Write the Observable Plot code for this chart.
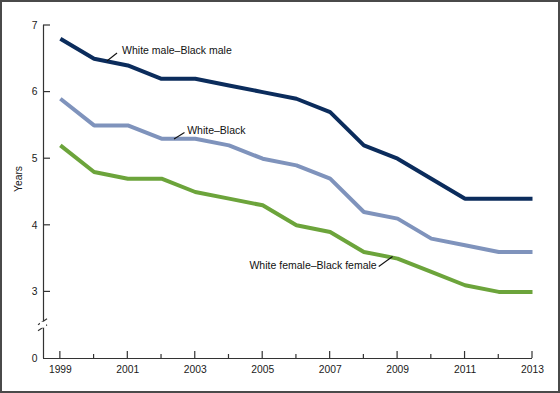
<!DOCTYPE html>
<html><head><meta charset="utf-8">
<script src="https://cdn.jsdelivr.net/npm/d3@7"></script>
<script src="https://cdn.jsdelivr.net/npm/@observablehq/plot@0.6"></script>
<style>
html,body{margin:0;padding:0;background:#fff;}
#chart{position:relative;width:560px;height:393px;overflow:hidden;}
#chart svg{position:absolute;left:0;top:0;}
#frame{position:absolute;left:0;top:0;width:560px;height:393px;box-sizing:border-box;border:2px solid #4a4a4a;pointer-events:none;}
</style></head><body>
<div id="chart"><div id="frame"></div></div>
<script>
// ---- data ----
const years = [1999,2000,2001,2002,2003,2004,2005,2006,2007,2008,2009,2010,2011,2012,2013];
const whiteMaleBlackMale     = [6.8,6.5,6.4,6.2,6.2,6.1,6.0,5.9,5.7,5.2,5.0,4.7,4.4,4.4,4.4];
const whiteBlack             = [5.9,5.5,5.5,5.3,5.3,5.2,5.0,4.9,4.7,4.2,4.1,3.8,3.7,3.6,3.6];
const whiteFemaleBlackFemale = [5.2,4.8,4.7,4.7,4.5,4.4,4.3,4.0,3.9,3.6,3.5,3.3,3.1,3.0,3.0];
const seriesNames = ["White male–Black male","White–Black","White female–Black female"];
const seriesColors = ["#0b2c5c","#7f93bc","#6ca43b"];
const xTickLabels = [1999,2001,2003,2005,2007,2009,2011,2013];
const yTickLabels = [0,3,4,5,6,7];
const yAxisTitle = "Years";

// annotation anchors (data units)
const labelText  = seriesNames;
const labelYear  = [2000.83, 2002.76, 2008.38];
const labelValue = [6.617, 5.423, 3.388];
const labelAnchor = ["start","start","end"];
const leaderFromYear  = [2000.38, 2002.37, 2008.44];
const leaderFromValue = [6.467, 5.296, 3.381];
const leaderToYear    = [2000.68, 2002.68, 2008.85];
const leaderToValue   = [6.587, 5.393, 3.532];

// ---- build tables ----
const seriesValues = [whiteMaleBlackMale, whiteBlack, whiteFemaleBlackFemale];
const rows = [];
seriesNames.forEach((s, i) => years.forEach((yr, j) => rows.push({series: s, year: yr, value: seriesValues[i][j]})));
const labels = labelText.map((t, i) => ({text: t, year: labelYear[i], value: labelValue[i], anchor: labelAnchor[i]}));
const leaders = labelText.map((t, i) => ({x1: leaderFromYear[i], y1: leaderFromValue[i], x2: leaderToYear[i], y2: leaderToValue[i]}));

// axis break: 0 is shown at the position of 2
const breakPos = 2;
const yTickPos = yTickLabels.map(v => v === 0 ? breakPos : v);
const font = "'Liberation Sans', Arial, Helvetica, sans-serif";

const plot = Plot.plot({
  width: 560, height: 393,
  marginLeft: 43, marginRight: 28, marginTop: 25, marginBottom: 35,
  style: {fontFamily: font, fontSize: "10.3px", color: "#1a1a1a", background: "transparent", overflow: "visible"},
  x: {domain: [1998.5, 2013]},
  y: {domain: [breakPos, 7]},
  color: {domain: seriesNames, range: seriesColors},
  marks: [
    Plot.ruleY([breakPos], {stroke: "#333", strokeWidth: 1.2}),
    Plot.ruleX([1998.5], {y1: breakPos, y2: 7, stroke: "#333", strokeWidth: 1.2}),
    Plot.axisY({ticks: yTickPos, tickSize: 0, tickPadding: 6, tickFormat: d => String(d === breakPos ? 0 : d), label: null}),
    Plot.axisX({ticks: xTickLabels, tickSize: 0, tickPadding: 7, tickFormat: d => String(d), label: null}),
    Plot.text([yAxisTitle], {frameAnchor: "left", rotate: -90, dx: -24.5, dy: 0, fontSize: 10.3}),
    Plot.line(rows, {x: "year", y: "value", z: "series", stroke: "series", strokeWidth: 4, strokeLinejoin: "miter", strokeLinecap: "butt"}),
    Plot.link(leaders, {x1: "x1", y1: "y1", x2: "x2", y2: "y2", stroke: "#111", strokeWidth: 1.1}),
    Plot.text(labels.filter(d => d.anchor === "start"), {x: "year", y: "value", text: "text", textAnchor: "start", fill: "#111", fontSize: 10.5}),
    Plot.text(labels.filter(d => d.anchor === "end"), {x: "year", y: "value", text: "text", textAnchor: "end", fill: "#111", fontSize: 10.5})
  ]
});

// inward tick marks and the axis break, drawn with the plot's own scales
const sx = plot.scale("x"), sy = plot.scale("y");
const g = d3.select(plot).append("g").attr("stroke", "#333").attr("stroke-width", 1.2);
const x0 = sx.apply(1998.5), y0 = sy.apply(breakPos);
years.forEach(yr => {
  const len = xTickLabels.includes(yr) ? 7 : 4;
  g.append("line").attr("x1", sx.apply(yr)).attr("x2", sx.apply(yr)).attr("y1", y0).attr("y2", y0 - len);
});
yTickLabels.filter(v => v !== 0).forEach(v => {
  g.append("line").attr("x1", x0).attr("x2", x0 + 7).attr("y1", sy.apply(v)).attr("y2", sy.apply(v));
});
const by = sy.apply(breakPos + 0.5);
d3.select(plot).append("rect").attr("x", x0 - 3).attr("y", by - 3).attr("width", 6).attr("height", 6).attr("fill", "#fff");
[-3, 3].forEach(o => {
  g.append("line").attr("x1", x0 - 5).attr("y1", by + o + 3).attr("x2", x0 + 4).attr("y2", by + o - 3);
});

document.getElementById("chart").prepend(plot);
</script>
</body></html>
